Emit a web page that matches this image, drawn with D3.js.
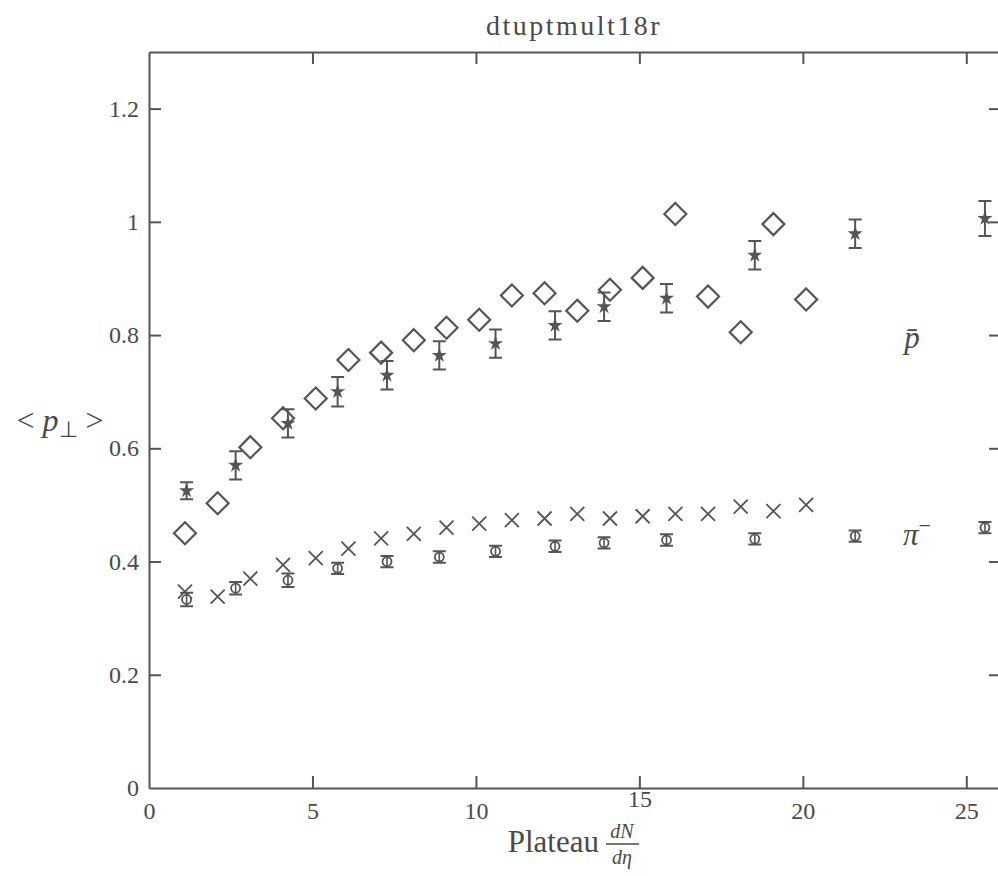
<!DOCTYPE html>
<html>
<head>
<meta charset="utf-8">
<script src="https://cdn.jsdelivr.net/npm/d3@7"></script>
<style>
  body { margin: 0; background: #fff; }
  text { font-family: "Liberation Serif", "Times New Roman", serif; fill: #4a4a4a; }
</style>
</head>
<body>
<div id="chart"></div>
<script>
const width = 998;
const height = 876;
const margin = { top: 52, right: -1, bottom: 88, left: 149 };

// p-bar, open diamonds (no errors)
const diamondX = [1.1, 2.1, 3.1, 4.1, 5.1, 6.1, 7.1, 8.1, 9.1, 10.1, 11.1, 12.1, 13.1, 14.1, 15.1, 16.1, 17.1, 18.1, 19.1, 20.1];
const diamondY = [0.450, 0.503, 0.602, 0.653, 0.688, 0.756, 0.769, 0.791, 0.813, 0.827, 0.870, 0.874, 0.843, 0.880, 0.901, 1.014, 0.868, 0.805, 0.996, 0.863];

// pi-, crosses (no errors), same x as diamonds
const crossY = [0.347, 0.338, 0.370, 0.394, 0.406, 0.423, 0.441, 0.449, 0.460, 0.467, 0.473, 0.476, 0.484, 0.476, 0.480, 0.484, 0.484, 0.497, 0.489, 0.500];

// points with error bars
const errX = [1.15, 2.65, 4.25, 5.77, 7.28, 8.88, 10.6, 12.42, 13.92, 15.83, 18.53, 21.6, 25.57];
const starY = [0.525, 0.570, 0.644, 0.700, 0.729, 0.764, 0.785, 0.817, 0.850, 0.865, 0.941, 0.979, 1.006];
const starErr = [0.015, 0.025, 0.025, 0.026, 0.025, 0.025, 0.025, 0.025, 0.025, 0.025, 0.025, 0.025, 0.031];
const circleY = [0.333, 0.353, 0.367, 0.388, 0.400, 0.408, 0.418, 0.427, 0.433, 0.438, 0.440, 0.445, 0.460];
const circleErr = [0.012, 0.011, 0.012, 0.010, 0.010, 0.010, 0.010, 0.010, 0.010, 0.010, 0.010, 0.010, 0.010];

const xTicks = [0, 5, 10, 15, 20, 25];
const yTicks = [0, 0.2, 0.4, 0.6, 0.8, 1, 1.2];

const ink = "#555";

const svg = d3.select("#chart")
  .append("svg")
    .attr("width", width)
    .attr("height", height);

const xScale = d3.scaleLinear()
  .domain([0, 26])
  .range([margin.left, width - margin.right]);
const yScale = d3.scaleLinear()
  .domain([0, 1.3])
  .range([height - margin.bottom, margin.top]);

// axes, ticks pointing inward
const bottomAxis = d3.axisBottom(xScale).tickValues(xTicks).tickSize(-12).tickSizeOuter(0).tickPadding(14)
  .tickFormat(d3.format("d"));
const topAxis = d3.axisTop(xScale).tickValues(xTicks.slice(1)).tickSize(-12).tickSizeOuter(0).tickFormat("");
const leftAxis = d3.axisLeft(yScale).tickValues(yTicks).tickSize(-12).tickSizeOuter(0).tickPadding(10)
  .tickFormat(d => d === 0 || d === 1 ? d3.format("d")(d) : d3.format(".1f")(d));
const rightAxis = d3.axisRight(yScale).tickValues(yTicks.slice(1)).tickSize(-10).tickSizeOuter(0).tickFormat("");

const gx = svg.append("g").attr("class", "axis axis-x")
  .attr("transform", `translate(0, ${yScale(0)})`).call(bottomAxis);
svg.append("g").attr("class", "axis axis-top")
  .attr("transform", `translate(0, ${yScale(1.3)})`).call(topAxis);
const gy = svg.append("g").attr("class", "axis axis-y")
  .attr("transform", `translate(${xScale(0)}, 0)`).call(leftAxis);
svg.append("g").attr("class", "axis axis-right")
  .attr("transform", `translate(${xScale(26)}, 0)`).call(rightAxis);

svg.selectAll(".axis path, .axis line")
  .attr("stroke", ink)
  .attr("stroke-width", 2);
svg.selectAll(".axis text")
  .style("font-size", "24px")
  .attr("fill", "#4a4a4a");
gy.selectAll(".tick").filter(d => d === 0).select("line").remove();
gx.selectAll(".tick").filter(d => d === 0).select("line").remove();
// the scanned "15" sits a little higher than its neighbours
gx.selectAll(".tick").filter(d => d === 15).select("text").attr("dy", "0.2em");

// diamonds
const diamondPath = (cx, cy, r) => `M${cx},${cy - r}L${cx + r},${cy}L${cx},${cy + r}L${cx - r},${cy}Z`;
svg.append("g")
  .selectAll("path")
  .data(diamondX.map((x, i) => ({ x, y: diamondY[i] })))
  .join("path")
    .attr("d", d => diamondPath(xScale(d.x), yScale(d.y), 11))
    .attr("fill", "none")
    .attr("stroke", ink)
    .attr("stroke-width", 2.2);

// crosses
const crossPath = (cx, cy, r) => `M${cx - r},${cy - r}L${cx + r},${cy + r}M${cx - r},${cy + r}L${cx + r},${cy - r}`;
svg.append("g")
  .selectAll("path")
  .data(diamondX.map((x, i) => ({ x, y: crossY[i] })))
  .join("path")
    .attr("d", d => crossPath(xScale(d.x), yScale(d.y), 7))
    .attr("fill", "none")
    .attr("stroke", ink)
    .attr("stroke-width", 1.8);

// error bars
const drawErrors = (ys, errs, cap) => {
  const data = errX.map((x, i) => ({ x, y: ys[i], e: errs[i] }));
  const g = svg.append("g").attr("stroke", ink).attr("stroke-width", 2).attr("fill", "none");
  g.selectAll("path")
    .data(data)
    .join("path")
      .attr("d", d => {
        const cx = xScale(d.x), y0 = yScale(d.y - d.e), y1 = yScale(d.y + d.e);
        return `M${cx},${y0}L${cx},${y1}M${cx - cap},${y0}L${cx + cap},${y0}M${cx - cap},${y1}L${cx + cap},${y1}`;
      });
  return data;
};

const starData = drawErrors(starY, starErr, 6.5);
svg.append("g")
  .selectAll("path")
  .data(starData)
  .join("path")
    .attr("transform", d => `translate(${xScale(d.x)}, ${yScale(d.y)})`)
    .attr("d", d3.symbol().type(d3.symbolStar).size(70))
    .attr("fill", ink);

const circleData = drawErrors(circleY, circleErr, 6.5);
svg.append("g")
  .selectAll("circle")
  .data(circleData)
  .join("circle")
    .attr("cx", d => xScale(d.x))
    .attr("cy", d => yScale(d.y))
    .attr("r", 4.5)
    .attr("fill", "#fff")
    .attr("stroke", ink)
    .attr("stroke-width", 1.8);
svg.append("g")
  .selectAll("line")
  .data(circleData)
  .join("line")
    .attr("x1", d => xScale(d.x)).attr("x2", d => xScale(d.x))
    .attr("y1", d => yScale(d.y) - 4.5).attr("y2", d => yScale(d.y) + 4.5)
    .attr("stroke", ink).attr("stroke-width", 1.6);

// title
svg.append("text")
  .attr("x", (xScale(0) + xScale(26)) / 2)
  .attr("y", 35)
  .attr("text-anchor", "middle")
  .style("font-size", "28px")
  .style("letter-spacing", "2.5px")
  .text("dtuptmult18r");

// y title
const yTitle = svg.append("text")
  .attr("x", 60)
  .attr("y", 431)
  .attr("text-anchor", "middle")
  .style("font-size", "32px");
yTitle.append("tspan").text("< ");
yTitle.append("tspan").style("font-style", "italic").text("p");
yTitle.append("tspan").attr("dy", 6).style("font-size", "22px").text("⊥");
yTitle.append("tspan").attr("dy", -6).text(" >");

// x title
svg.append("text")
  .attr("x", 599)
  .attr("y", 852)
  .attr("text-anchor", "end")
  .style("font-size", "31px")
  .text("Plateau");
svg.append("text")
  .attr("x", 622)
  .attr("y", 838)
  .attr("text-anchor", "middle")
  .style("font-size", "20px")
  .style("font-style", "italic")
  .text("dN");
svg.append("line")
  .attr("x1", 606).attr("x2", 639)
  .attr("y1", 844).attr("y2", 844)
  .attr("stroke", "#4a4a4a").attr("stroke-width", 1.3);
svg.append("text")
  .attr("x", 622)
  .attr("y", 864)
  .attr("text-anchor", "middle")
  .style("font-size", "20px")
  .style("font-style", "italic")
  .text("dη");

// series labels
svg.append("text")
  .attr("x", 912)
  .attr("y", 348)
  .attr("text-anchor", "middle")
  .style("font-size", "31px")
  .style("font-style", "italic")
  .text("p\u0304");
const piLabel = svg.append("text")
  .attr("x", 903)
  .attr("y", 545)
  .style("font-size", "31px")
  .style("font-style", "italic");
piLabel.append("tspan").text("π");
piLabel.append("tspan").attr("dy", -12).style("font-size", "22px").style("font-style", "normal").text("−");
</script>
</body>
</html>
